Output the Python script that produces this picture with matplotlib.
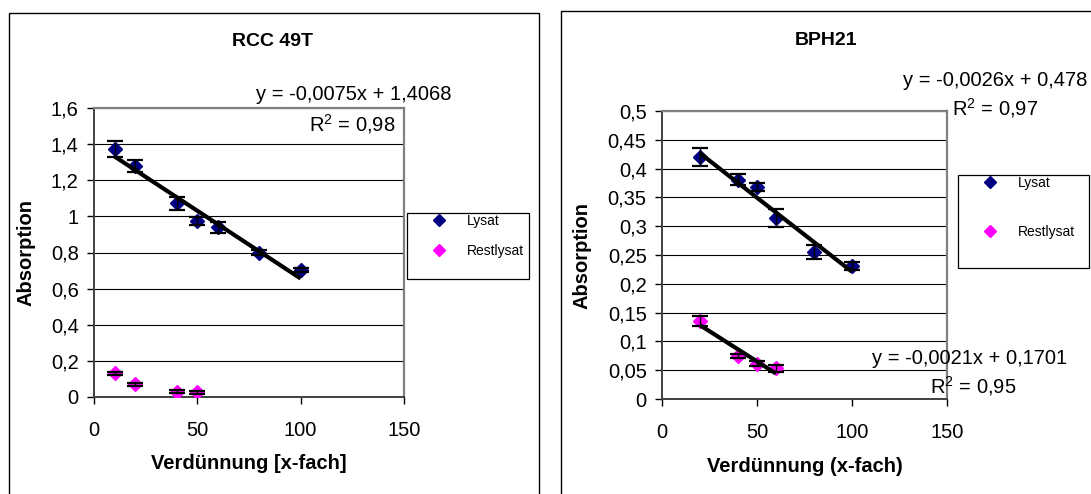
import numpy as np
import matplotlib
matplotlib.use("Agg")
import matplotlib.pyplot as plt
from matplotlib.patches import Rectangle
from matplotlib.ticker import FuncFormatter, MultipleLocator

plt.rcParams['font.family'] = ['Liberation Sans', 'DejaVu Sans']
plt.rcParams['mathtext.fontset'] = 'custom'
plt.rcParams['mathtext.rm'] = 'Liberation Sans'

# ---------------- data ----------------
titles = ["RCC 49T", "BPH21"]
xlabels = ["Verdünnung [x-fach]", "Verdünnung (x-fach)"]
ylabel = "Absorption"
legend_labels = ["Lysat", "Restlysat"]

x_rcc_lys = [10, 20, 40, 50, 60, 80, 100]
y_rcc_lys = [1.373, 1.279, 1.072, 0.975, 0.940, 0.800, 0.703]
e_rcc_lys = [0.045, 0.035, 0.035, 0.020, 0.030, 0.015, 0.010]
x_rcc_rest = [10, 20, 40, 50]
y_rcc_rest = [0.131, 0.070, 0.030, 0.025]
e_rcc_rest = [0.008, 0.008, 0.006, 0.006]

x_bph_lys = [20, 40, 50, 60, 80, 100]
y_bph_lys = [0.420, 0.381, 0.368, 0.314, 0.255, 0.2305]
e_bph_lys = [0.016, 0.009, 0.007, 0.015, 0.012, 0.007]
x_bph_rest = [20, 40, 50, 60]
y_bph_rest = [0.135, 0.0745, 0.0613, 0.053]
e_bph_rest = [0.009, 0.004, 0.004, 0.006]

eq_rcc = ["y = -0,0075x + 1,4068", r"R$^{\mathrm{2}}$ = 0,98"]
eq_bph_lys = ["y = -0,0026x + 0,478", r"R$^{\mathrm{2}}$ = 0,97"]
eq_bph_rest = ["y = -0,0021x + 0,1701", r"R$^{\mathrm{2}}$ = 0,95"]

x_ticks = [0, 50, 100, 150]
# --------------------------------------

W, H = 1091, 494
fig = plt.figure(figsize=(W / 100, H / 100), dpi=100)

def fx(px):
    return px / W

def fy(py):
    return 1 - py / H

def add_axes_px(x0, y0, x1, y1):
    return fig.add_axes([x0 / W, 1 - y1 / H, (x1 - x0) / W, (y1 - y0) / H])

LYS = '#000080'
REST = '#FF00FF'
FS = 14.5

def comma(v, pos):
    s = '{:g}'.format(round(v, 4))
    return s.replace('.', ',')

def style_axes(ax, ymax, ystep):
    ax.set_xlim(0, 150)
    ax.set_ylim(0, ymax)
    ax.set_xticks(x_ticks)
    ax.yaxis.set_major_locator(MultipleLocator(ystep))
    ax.yaxis.set_major_formatter(FuncFormatter(comma))
    ax.grid(axis='y', color='black', lw=0.8)
    ax.set_axisbelow(True)
    for s in ['top', 'right']:
        ax.spines[s].set_color('#808080')
        ax.spines[s].set_linewidth(1.6)
    for s in ['left', 'bottom']:
        ax.spines[s].set_color('#404040')
        ax.spines[s].set_linewidth(1.4)
    ax.tick_params(axis='both', direction='out', length=5, width=1, colors='black',
                   labelsize=FS)
    ax.tick_params(axis='x', pad=12)
    ax.tick_params(axis='y', pad=6)

def series(ax, x, y, e, color):
    ax.errorbar(x, y, yerr=e, fmt='none', ecolor='black', elinewidth=1,
                capsize=5.5, capthick=1.6, zorder=4)
    ax.plot(x, y, 'D', color=color, ms=7.5, mec=color, zorder=3)

def trend(ax, x, y):
    k, d = np.polyfit(x, y, 1)
    xs = np.array([min(x), max(x)])
    ax.plot(xs, k * xs + d, color='black', lw=3, zorder=5, solid_capstyle='butt')

def legend_box(ax, x0, y0, x1, y1, spacing):
    fig.add_artist(Rectangle((fx(x0), fy(y1)), fx(x1) - fx(x0), fy(y0) - fy(y1),
                             transform=fig.transFigure, fill=False, ec='black', lw=0.9))
    h = [plt.Line2D([], [], ls='none', marker='D', color=LYS, ms=6),
         plt.Line2D([], [], ls='none', marker='D', color=REST, ms=6)]
    ax.legend(h, legend_labels, loc='upper left',
              bbox_to_anchor=(fx(x0 + 16), fy(y0 - 1)), bbox_transform=fig.transFigure,
              frameon=False, fontsize=10, borderpad=0.15, borderaxespad=0,
              handlelength=2, handletextpad=1.0, labelspacing=spacing)

# outer chart frames
fig.add_artist(Rectangle((fx(9), fy(520)), fx(539) - fx(9), fy(13) - fy(520),
                         transform=fig.transFigure, fill=False, ec='black', lw=1))
fig.add_artist(Rectangle((fx(561), fy(520)), fx(1120) - fx(561), fy(11) - fy(520),
                         transform=fig.transFigure, fill=False, ec='black', lw=1))

# ---- left chart ----
ax1 = add_axes_px(94, 108, 404, 397)
style_axes(ax1, 1.6, 0.2)
series(ax1, x_rcc_lys, y_rcc_lys, e_rcc_lys, LYS)
series(ax1, x_rcc_rest, y_rcc_rest, e_rcc_rest, REST)
trend(ax1, x_rcc_lys, y_rcc_lys)
ax1.set_xlabel(xlabels[0], fontsize=FS, fontweight='bold')
ax1.set_ylabel(ylabel, fontsize=FS, fontweight='bold')
ax1.xaxis.set_label_coords(0.5, -0.198)
ax1.yaxis.set_label_coords(-0.19, 0.5)
fig.text(fx(273), fy(46.5), titles[0], ha='center', va='baseline',
         fontsize=14, fontweight='bold')
fig.text(fx(451), fy(100), eq_rcc[0], ha='right', va='baseline', fontsize=FS)
fig.text(fx(395), fy(131), eq_rcc[1], ha='right', va='baseline', fontsize=FS)
legend_box(ax1, 407, 213, 529, 279, 1.17)

# ---- right chart ----
ax2 = add_axes_px(662, 111, 947, 399)
style_axes(ax2, 0.5, 0.05)
series(ax2, x_bph_lys, y_bph_lys, e_bph_lys, LYS)
series(ax2, x_bph_rest, y_bph_rest, e_bph_rest, REST)
trend(ax2, x_bph_lys, y_bph_lys)
trend(ax2, x_bph_rest, y_bph_rest)
ax2.set_xlabel(xlabels[1], fontsize=FS, fontweight='bold')
ax2.set_ylabel(ylabel, fontsize=FS, fontweight='bold')
ax2.xaxis.set_label_coords(0.5, -0.20)
ax2.yaxis.set_label_coords(-0.246, 0.5)
fig.text(fx(826), fy(45), titles[1], ha='center', va='baseline',
         fontsize=14, fontweight='bold')
fig.text(fx(1087), fy(86), eq_bph_lys[0], ha='right', va='baseline', fontsize=FS)
fig.text(fx(952), fy(115), eq_bph_lys[1], ha='left', va='baseline', fontsize=FS)
fig.text(fx(872), fy(364), eq_bph_rest[0], ha='left', va='baseline', fontsize=FS)
fig.text(fx(930), fy(393), eq_bph_rest[1], ha='left', va='baseline', fontsize=FS)
legend_box(ax2, 958, 175, 1089, 268, 2.5)

fig.savefig('out.png', dpi=100)
